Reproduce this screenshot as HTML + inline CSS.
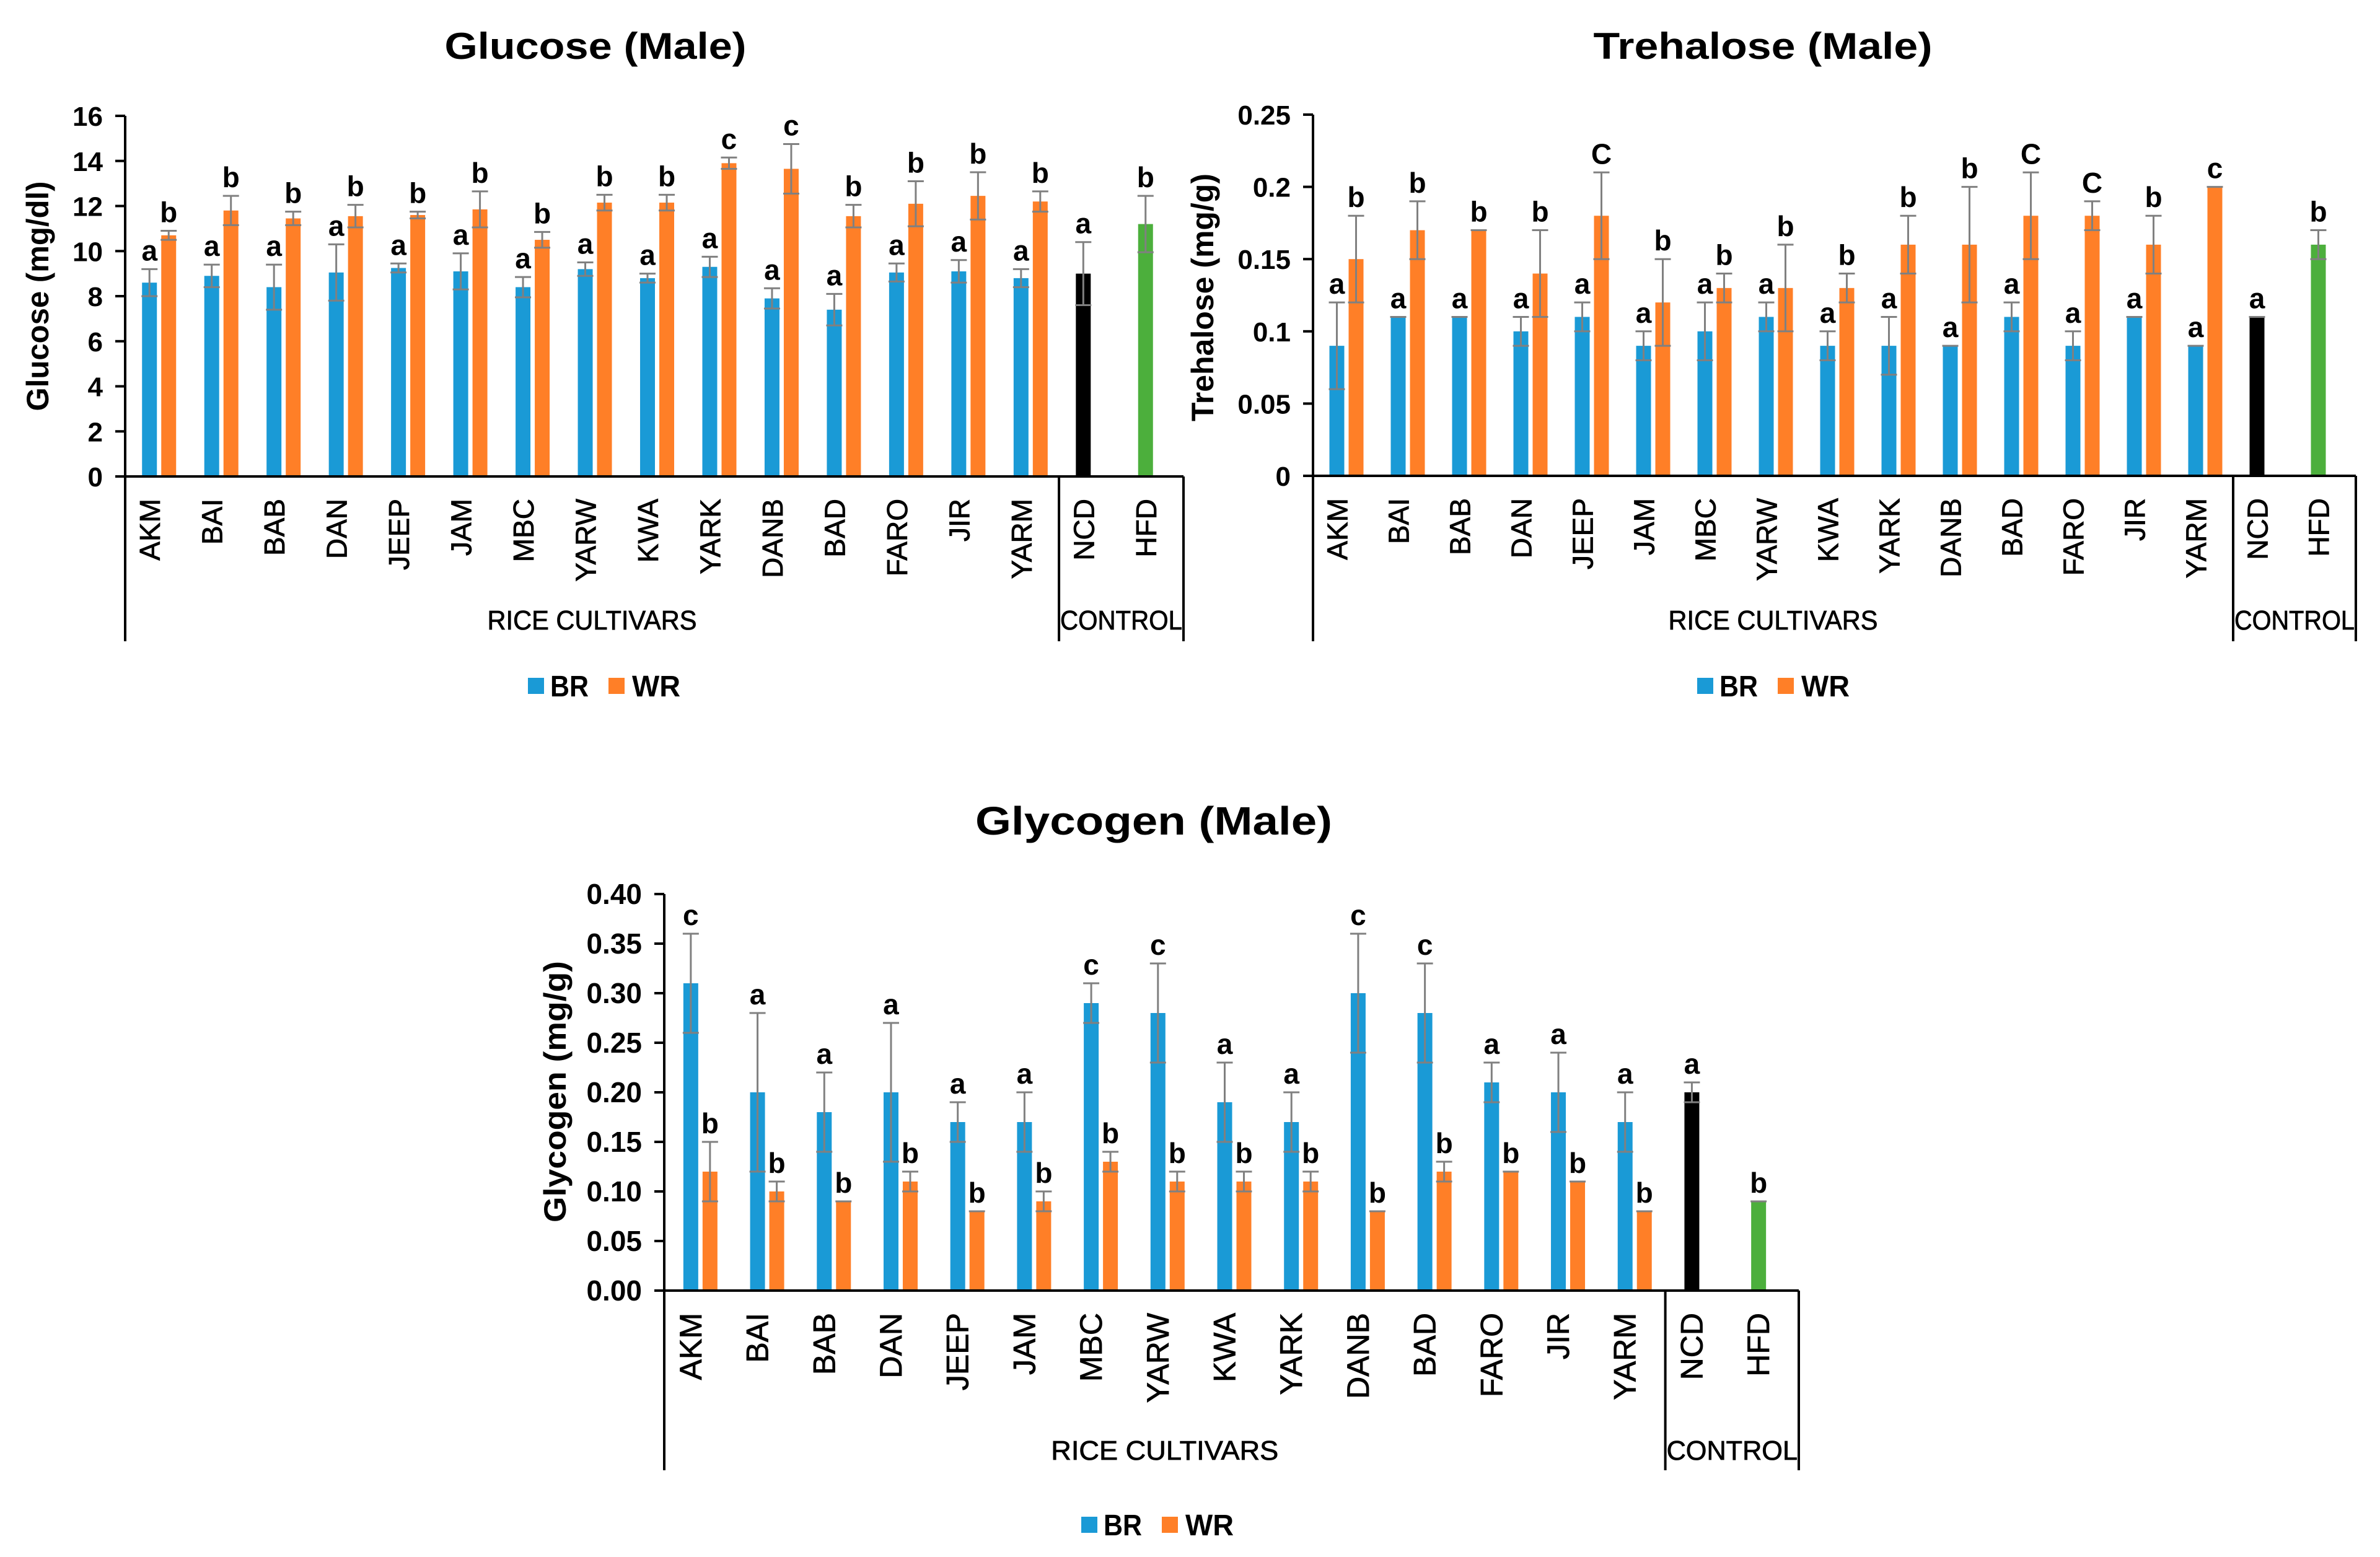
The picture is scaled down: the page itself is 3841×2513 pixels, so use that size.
<!DOCTYPE html>
<html><head><meta charset="utf-8"><style>
html,body{margin:0;padding:0;background:#fff;}
svg{display:block;}
text{font-family:"Liberation Sans",Arial,sans-serif;}
</style></head>
<body>
<svg id="fig" xmlns="http://www.w3.org/2000/svg" width="3841" height="2513" viewBox="0 0 3841 2513">
<rect x="0" y="0" width="3841" height="2513" fill="#fff"/>
</svg>
<script>
// ---------- shared categories ----------
const categories = ["AKM","BAI","BAB","DAN","JEEP","JAM","MBC","YARW","KWA","YARK","DANB","BAD","FARO","JIR","YARM","NCD","HFD"];

// ---------- Glucose ----------
const glucoseBR = [8.6,8.9,8.4,9.05,9.25,9.1,8.4,9.2,8.8,9.3,7.9,7.4,9.05,9.1,8.8,9.0,null];
const glucoseBRerr = [0.6,0.5,1.0,1.25,0.2,0.8,0.45,0.3,0.2,0.45,0.45,0.7,0.4,0.5,0.4,1.4,null];
const glucoseWR = [10.7,11.8,11.45,11.55,11.6,11.85,10.5,12.15,12.15,13.9,13.65,11.55,12.1,12.45,12.2,null,11.2];
const glucoseWRerr = [0.2,0.65,0.3,0.5,0.15,0.8,0.35,0.35,0.35,0.25,1.1,0.5,1.0,1.05,0.45,null,1.25];
const glucoseBRletters = ["a","a","a","a","a","a","a","a","a","a","a","a","a","a","a","a",null];
const glucoseWRletters = ["b","b","b","b","b","b","b","b","b","c","c","b","b","b","b",null,"b"];
const glucoseTicks = [0,2,4,6,8,10,12,14,16];
const glucoseTickLabels = ["0","2","4","6","8","10","12","14","16"];

// ---------- Trehalose ----------
const trehaloseBR = [0.09,0.11,0.11,0.10,0.11,0.09,0.10,0.11,0.09,0.09,0.09,0.11,0.09,0.11,0.09,0.11,null];
const trehaloseBRerr = [0.03,0,0,0.01,0.01,0.01,0.02,0.01,0.01,0.02,0,0.01,0.01,0,0,0,null];
const trehaloseWR = [0.15,0.17,0.17,0.14,0.18,0.12,0.13,0.13,0.13,0.16,0.16,0.18,0.18,0.16,0.20,null,0.16];
const trehaloseWRerr = [0.03,0.02,0,0.03,0.03,0.03,0.01,0.03,0.01,0.02,0.04,0.03,0.01,0.02,0,null,0.01];
const trehaloseBRletters = ["a","a","a","a","a","a","a","a","a","a","a","a","a","a","a","a",null];
const trehaloseWRletters = ["b","b","b","b","C","b","b","b","b","b","b","C","C","b","c",null,"b"];
const trehaloseTicks = [0,0.05,0.1,0.15,0.2,0.25];
const trehaloseTickLabels = ["0","0.05","0.1","0.15","0.2","0.25"];

// ---------- Glycogen ----------
const glycogenBR = [0.31,0.20,0.18,0.20,0.17,0.17,0.29,0.28,0.19,0.17,0.30,0.28,0.21,0.20,0.17,0.20,null];
const glycogenBRerr = [0.05,0.08,0.04,0.07,0.02,0.03,0.02,0.05,0.04,0.03,0.06,0.05,0.02,0.04,0.03,0.01,null];
const glycogenWR = [0.12,0.10,0.09,0.11,0.08,0.09,0.13,0.11,0.11,0.11,0.08,0.12,0.12,0.11,0.08,null,0.09];
const glycogenWRerr = [0.03,0.01,0,0.01,0,0.01,0.01,0.01,0.01,0.01,0,0.01,0,0,0,null,0];
const glycogenBRletters = ["c","a","a","a","a","a","c","c","a","a","c","c","a","a","a","a",null];
const glycogenWRletters = ["b","b","b","b","b","b","b","b","b","b","b","b","b","b","b",null,"b"];
const glycogenTicks = [0,0.05,0.10,0.15,0.20,0.25,0.30,0.35,0.40];
const glycogenTickLabels = ["0.00","0.05","0.10","0.15","0.20","0.25","0.30","0.35","0.40"];

const NS = "http://www.w3.org/2000/svg";
const svg = document.getElementById("fig");
const BLUE = "#1a9ad6", ORANGE = "#ff7f27", BLACK = "#000000", GREEN = "#4caf3c", ERR = "#808080";

function mk(tag, attrs, parent) {
  const el = document.createElementNS(NS, tag);
  for (const k in attrs) el.setAttribute(k, attrs[k]);
  (parent || svg).appendChild(el);
  return el;
}

function drawChart(L, br, brErr, wr, wrErr, brLet, wrLet, ticks, tickLabels, key) {
  const g = mk("g", {});
  
  
  const n = categories.length;
  const cw = (L.x1 - L.x0) / n;
  const xc = i => L.x0 + cw * (i + 0.5);
  const yv = v => L.y0 - (v / L.max) * (L.y0 - L.yTop);

  const t = mk("text", {x: L.titleX, y: L.titleY, "text-anchor": "middle", "font-size": L.titleSize || 60, "font-weight": "bold", textLength: L.titleLen, lengthAdjust: "spacingAndGlyphs"}, g);
  t.textContent = L.title;
  
  

  const yt = mk("text", {x: 0, y: 0, "text-anchor": "middle", "font-size": 50, "font-weight": "bold", textLength: L.yTitleLen, lengthAdjust: "spacingAndGlyphs", transform: `translate(${L.yTitleX},${L.yTitleY}) rotate(-90)`}, g);
  yt.textContent = L.yTitle;
  
  

  ticks.forEach((v, i) => {
    const y = yv(v);
    const tk = mk("line", {x1: L.x0 - 16, x2: L.x0, y1: y, y2: y, stroke: "#000", "stroke-width": 4}, g);
    
    
    const tl = mk("text", {x: L.x0 - 36, y: y + 16, "text-anchor": "end", "font-size": L.tickSize || 44, "font-weight": "bold"}, g);
    tl.textContent = tickLabels[i];
    
    
  });

  for (let i = 0; i < n; i++) {
    const c = xc(i);
    const single = (br[i] == null) || (wr[i] == null);
    const series = [];
    if (br[i] != null) series.push({v: br[i], e: brErr[i], l: brLet[i], col: i === 15 ? BLACK : BLUE, slot: 0, nm: 'br'});
    if (wr[i] != null) series.push({v: wr[i], e: wrErr[i], l: wrLet[i], col: i === 16 ? GREEN : ORANGE, slot: single ? 0 : 1, nm: 'wr'});
    series.forEach(s => {
      const bx = s.slot === 0 ? c - 23 : c + 8;
      const bw = 24;
      const y = yv(s.v);
      const r = mk("rect", {x: bx, y: y, width: bw, height: L.y0 - y, fill: s.col}, g);
      
      
      const mx = bx + bw / 2;
      const yt2 = yv(s.v + s.e), yb2 = yv(s.v - s.e);
      const eb = mk("path", {d: `M${mx},${yt2}V${yb2}M${mx-13},${yt2}H${mx+13}M${mx-13},${yb2}H${mx+13}`, stroke: ERR, "stroke-width": 3, fill: "none"}, g);
      
      
      if (s.l) {
        const lt = mk("text", {x: mx, y: yt2 - 14, "text-anchor": "middle", "font-size": 46, "font-weight": "bold"}, g);
        lt.textContent = s.l;
        
        
      }
    });
    const cl = mk("text", {x: 0, y: 0, "text-anchor": "end", "font-size": L.catSize || 46, stroke: "#000", "stroke-width": 0.8, transform: `translate(${c + 6},${L.y0 + 36}) rotate(-90)`}, g);
    cl.textContent = categories[i];
    
    
  }

  const divX = L.x0 + cw * 15;
  const ax = mk("path", {d: `M${L.x0},${L.yTop}V${L.bottom}M${L.x0 - 16},${L.y0}H${L.x1}M${divX},${L.y0}V${L.bottom}M${L.x1},${L.y0}V${L.bottom}`, stroke: "#000", "stroke-width": 4, fill: "none"}, g);
  
  

  const rc = mk("text", {x: (L.x0 + divX) / 2, y: L.groupY, "text-anchor": "middle", "font-size": 44, stroke: "#000", "stroke-width": 0.8, textLength: L.riceLen, lengthAdjust: "spacingAndGlyphs"}, g);
  rc.textContent = "RICE CULTIVARS";
  
  
  const cc = mk("text", {x: (divX + L.x1) / 2, y: L.groupY, "text-anchor": "middle", "font-size": 44, stroke: "#000", "stroke-width": 0.8, textLength: L.x1 - divX - 4, lengthAdjust: "spacingAndGlyphs"}, g);
  cc.textContent = "CONTROL";
  
  

  const lg = mk("g", {}, g);
  
  
  const s1 = mk("rect", {x: L.legX, y: L.legY - 13, width: 26, height: 26, fill: BLUE}, lg);
  
  
  const t1 = mk("text", {x: L.legX + 36, y: L.legY + 17, "font-size": 48, "font-weight": "bold", textLength: 62, lengthAdjust: "spacingAndGlyphs"}, lg);
  t1.textContent = "BR";
  
  
  const s2 = mk("rect", {x: L.legX + 130, y: L.legY - 13, width: 26, height: 26, fill: ORANGE}, lg);
  
  
  const t2 = mk("text", {x: L.legX + 168, y: L.legY + 17, "font-size": 48, "font-weight": "bold", textLength: 78, lengthAdjust: "spacingAndGlyphs"}, lg);
  t2.textContent = "WR";
  
  
}

drawChart({x0: 202, x1: 1910, yTop: 187, y0: 769, bottom: 1035, max: 16,
  title: "Glucose (Male)", titleX: 961, titleY: 95, titleLen: 487,
  yTitle: "Glucose (mg/dl)", yTitleX: 78, yTitleY: 478, yTitleLen: 371,
  groupY: 1016, riceLen: 338, legX: 852, legY: 1107},
  glucoseBR, glucoseBRerr, glucoseWR, glucoseWRerr, glucoseBRletters, glucoseWRletters, glucoseTicks, glucoseTickLabels, "glucose");

drawChart({x0: 2119, x1: 3802, yTop: 185, y0: 768, bottom: 1035, max: 0.25,
  title: "Trehalose (Male)", titleX: 2845, titleY: 95, titleLen: 547,
  yTitle: "Trehalose (mg/g)", yTitleX: 1958, yTitleY: 480, yTitleLen: 400,
  groupY: 1016, riceLen: 338, legX: 2739, legY: 1107},
  trehaloseBR, trehaloseBRerr, trehaloseWR, trehaloseWRerr, trehaloseBRletters, trehaloseWRletters, trehaloseTicks, trehaloseTickLabels, "trehalose");

drawChart({x0: 1072, x1: 2903, yTop: 1443, y0: 2083, bottom: 2373, max: 0.40,
  title: "Glycogen (Male)", titleX: 1862, titleY: 1347, titleLen: 576, titleSize: 64,
  yTitle: "Glycogen (mg/g)", yTitleX: 913, yTitleY: 1762, yTitleLen: 422,
  groupY: 2356, riceLen: 367, catSize: 50, tickSize: 46, legX: 1745, legY: 2461},
  glycogenBR, glycogenBRerr, glycogenWR, glycogenWRerr, glycogenBRletters, glycogenWRletters, glycogenTicks, glycogenTickLabels, "glycogen");
</script>
</body></html>
